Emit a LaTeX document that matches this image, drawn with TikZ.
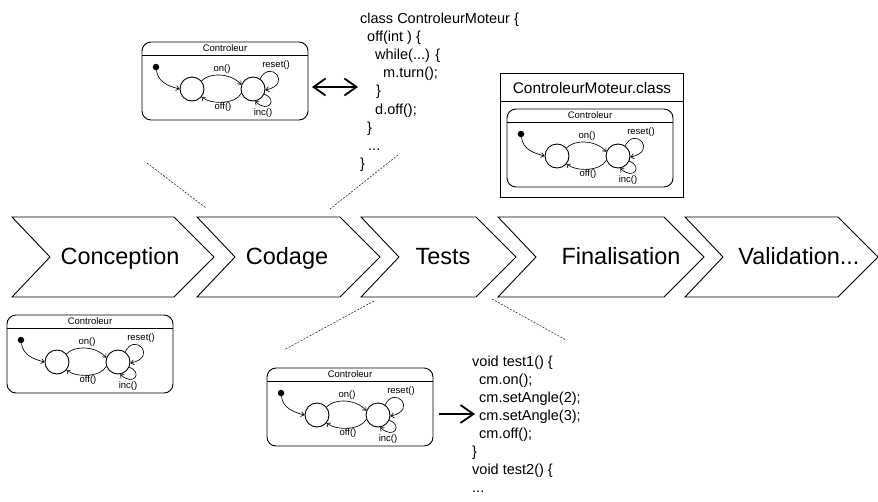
\documentclass[tikz,border=0pt]{standalone}
\usepackage{fontspec}
\setmainfont{Liberation Sans}
\usetikzlibrary{arrows.meta}
\tikzset{
  boxline/.style={line width=0.9pt},
  st/.style={circle,draw,minimum size=24pt,inner sep=0pt,line width=0.9pt},
  initdot/.style={circle,fill,minimum size=6.5pt,inner sep=0pt},
  tr/.style={line width=0.65pt,-{Straight Barb[length=3pt,width=5pt]}},
  smalltxt/.style={font=\fontsize{9.5}{10}\selectfont,inner sep=0pt},
  chev/.style={draw,fill=white,line width=0.9pt,line join=miter},
  big/.style={font=\fontsize{23.5}{28}\selectfont,inner sep=0pt,anchor=base},
  code/.style={font=\fontsize{14.5}{16}\selectfont,inner sep=0pt,anchor=base west},
  dotline/.style={line width=0.6pt,dash pattern=on 2pt off 1.4pt,black!85},
  bigarrow/.style={line width=1.8pt},
}
\newcommand{\machine}[3]{%
\begin{scope}[shift={(#2,#3)}]
  \draw[boxline,rounded corners=9pt] (0,0) rectangle (166,78);
  \draw[boxline] (0,13) -- (166,13);
  \node[smalltxt] (#1t) at (83,6.5) {Controleur};
  \node[initdot] (#1i) at (14,25) {};
  \node[st] (#1a) at (50,47) {};
  \node[st] (#1b) at (111,47) {};
  \draw[tr] (#1i) .. controls (16,40) and (26,44) .. (#1a.west);
  \draw[tr] (#1a.40) .. controls (66,31) and (88,30) .. (#1b.160);
  \draw[tr] (#1b.200) .. controls (94,62) and (70,63) .. (#1a.-40);
  \draw[tr] (#1b.55) .. controls (128,17) and (151,42) .. (#1b.-5);
  \draw[tr] (#1b.-25) .. controls (136,57) and (127,72) .. (#1b.-80);
  \node[smalltxt] (#1on) at (80,27) {on()};
  \node[smalltxt] (#1off) at (81,65.5) {off()};
  \node[smalltxt] (#1re) at (134,23.5) {reset()};
  \node[smalltxt] (#1inc) at (121,71.5) {inc()};
\end{scope}}
\newcommand{\chevron}[2]{%
  \draw[chev] (#1,217) -- (#2,217) -- ++(40,40) -- ++(-40,40) -- (#1,297) -- ++(38,-40) -- cycle;}
\begin{document}
\begin{tikzpicture}[x=1pt,y=-1pt]
\useasboundingbox (0,0) rectangle (878,501);

% dotted guide lines
\coordinate (g1a) at (147,163); \coordinate (g1b) at (206,208);
\coordinate (g2a) at (398,155); \coordinate (g2b) at (330,209);
\coordinate (g3a) at (374,301); \coordinate (g3b) at (284,350);
\coordinate (g4a) at (492,299); \coordinate (g4b) at (566,340);
\draw[dotline] (g1a) -- (g1b);
\draw[dotline] (g2a) -- (g2b);
\draw[dotline] (g3a) -- (g3b);
\draw[dotline] (g4a) -- (g4b);

% chevrons
\chevron{12}{174}
\chevron{197}{340}
\chevron{361}{476}
\chevron{498}{664}
\chevron{685}{838}
\node[big] (conc) at (120,264) {Conception};
\node[big] (coda) at (287,264) {Codage};
\node[big] (test) at (443,264) {Tests};
\node[big] (fina) at (621,264) {Finalisation};
\node[big] (vali) at (799,264) {Validation...};

% state machines
\machine{A}{142}{42}
\machine{C}{7}{315}
\machine{D}{267}{368}
\draw[boxline] (500,73) rectangle (683,197);
\draw[boxline] (500,101) -- (683,101);
\node[font=\fontsize{15.4}{18}\selectfont,inner sep=0pt,anchor=base] (cls) at (592,93.5) {ControleurMoteur.class};
\machine{B}{507}{109}

% code top
\node[code] (k1) at (360,23) {class ControleurMoteur \{};
\node[code] (k2) at (367,41.2) {off(int ) \{};
\node[code] (k3) at (375,59.4) {while(...) \{};
\node[code] (k4) at (383,77.6) {m.turn();};
\node[code] (k5) at (376,95.8) {\}};
\node[code] (k6) at (375,114) {d.off();};
\node[code] (k7) at (367,132.2) {\}};
\node[code] (k8) at (368,150.4) {...};
\node[code] (k9) at (360,168.6) {\}};

% code tests
\node[code] (t1) at (472,366) {void test1() \{};
\node[code] (t2) at (479,384) {cm.on();};
\node[code] (t3) at (479,402) {cm.setAngle(2);};
\node[code] (t4) at (479,420) {cm.setAngle(3);};
\node[code] (t5) at (479,438) {cm.off();};
\node[code] (t6) at (472,456) {\}};
\node[code] (t7) at (472,474) {void test2() \{};
\node[code] (t8) at (472,492) {...};

% arrows
\coordinate (da) at (312,87); \coordinate (db) at (358,87);
\draw[bigarrow,{Straight Barb[length=12pt,width=17pt]}-{Straight Barb[length=12pt,width=17pt]}] (da) -- (db);
\coordinate (ea) at (439,414); \coordinate (eb) at (475,414);
\draw[bigarrow,-{Straight Barb[length=13pt,width=18pt]}] (ea) -- (eb);
\end{tikzpicture}
\end{document}
